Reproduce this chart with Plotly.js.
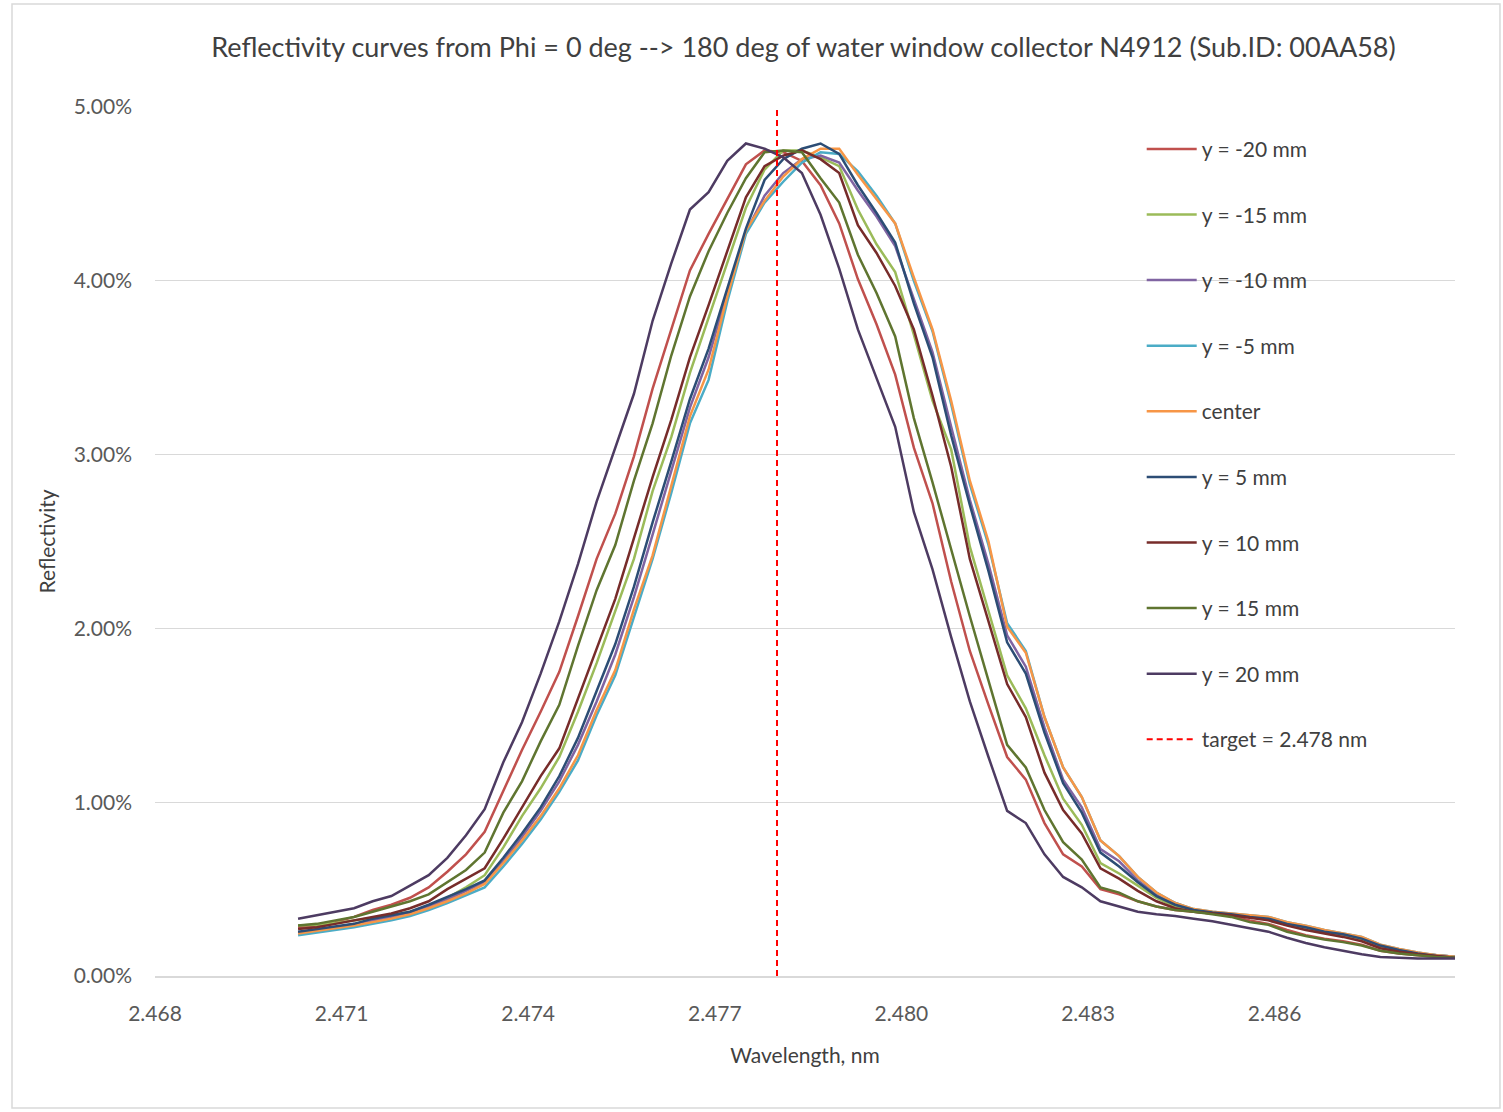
<!DOCTYPE html>
<html>
<head>
<meta charset="utf-8">
<script src="https://cdn.plot.ly/plotly-3.0.1.min.js"></script>
<style>html,body{margin:0;padding:0;background:#fff;}#chart{width:1503px;height:1112px;}</style>
</head>
<body>
<div id="chart"></div>
<script>
// Wavelength, nm
const wavelength = [2.4703,2.4706,2.4709,2.4712,2.4715,2.4718,2.4721,2.4724,2.4727,2.4730,2.4733,2.4736,2.4739,2.4742,2.4745,2.4748,2.4751,2.4754,2.4757,2.4760,2.4763,2.4766,2.4769,2.4772,2.4775,2.4778,2.4781,2.4784,2.4787,2.4790,2.4793,2.4796,2.4799,2.4802,2.4805,2.4808,2.4811,2.4814,2.4817,2.4820,2.4823,2.4826,2.4829,2.4832,2.4835,2.4838,2.4841,2.4844,2.4847,2.4850,2.4853,2.4856,2.4859,2.4862,2.4865,2.4868,2.4871,2.4874,2.4877,2.4880,2.4883,2.4886,2.4889];

// Reflectivity in percent
const yMinus20 = [0.28,0.29,0.31,0.34,0.38,0.41,0.45,0.51,0.60,0.70,0.83,1.07,1.30,1.52,1.75,2.07,2.40,2.66,2.99,3.38,3.72,4.06,4.27,4.47,4.67,4.75,4.74,4.69,4.55,4.33,4.01,3.75,3.46,3.04,2.72,2.27,1.87,1.56,1.26,1.13,0.88,0.70,0.63,0.50,0.47,0.43,0.40,0.38,0.37,0.36,0.345,0.32,0.30,0.265,0.235,0.215,0.20,0.18,0.145,0.13,0.12,0.11,0.105];
const yMinus15 = [0.29,0.295,0.305,0.32,0.335,0.35,0.37,0.40,0.45,0.51,0.58,0.74,0.92,1.08,1.26,1.52,1.80,2.10,2.40,2.79,3.10,3.47,3.79,4.10,4.42,4.64,4.75,4.75,4.71,4.66,4.41,4.21,4.05,3.69,3.31,3.03,2.47,2.10,1.73,1.54,1.27,1.02,0.87,0.65,0.59,0.52,0.45,0.40,0.375,0.36,0.35,0.34,0.325,0.30,0.275,0.255,0.235,0.21,0.17,0.145,0.13,0.12,0.11];
const yMinus10 = [0.25,0.265,0.28,0.30,0.32,0.34,0.365,0.40,0.44,0.49,0.54,0.66,0.80,0.95,1.12,1.33,1.58,1.85,2.18,2.54,2.90,3.27,3.56,3.93,4.28,4.49,4.62,4.70,4.72,4.68,4.52,4.37,4.20,3.89,3.59,3.16,2.74,2.37,1.96,1.78,1.43,1.13,0.97,0.73,0.66,0.55,0.47,0.42,0.38,0.365,0.355,0.345,0.335,0.305,0.28,0.26,0.24,0.22,0.175,0.15,0.13,0.12,0.11];
const yMinus5 = [0.235,0.25,0.265,0.28,0.30,0.32,0.345,0.38,0.42,0.465,0.51,0.63,0.76,0.90,1.06,1.24,1.50,1.73,2.07,2.40,2.78,3.18,3.43,3.88,4.27,4.45,4.57,4.68,4.74,4.73,4.63,4.49,4.33,4.00,3.71,3.29,2.83,2.48,2.03,1.87,1.49,1.20,1.03,0.78,0.69,0.57,0.48,0.42,0.385,0.37,0.36,0.35,0.34,0.31,0.29,0.265,0.245,0.225,0.18,0.155,0.135,0.12,0.11];
const yCenter = [0.245,0.26,0.275,0.29,0.31,0.33,0.355,0.39,0.43,0.475,0.53,0.65,0.78,0.92,1.08,1.27,1.53,1.76,2.11,2.42,2.82,3.22,3.49,3.91,4.29,4.46,4.60,4.70,4.76,4.76,4.61,4.47,4.33,4.02,3.72,3.31,2.85,2.50,2.01,1.86,1.49,1.20,1.03,0.78,0.69,0.57,0.48,0.42,0.385,0.37,0.36,0.35,0.34,0.31,0.29,0.265,0.245,0.225,0.18,0.155,0.135,0.12,0.11];
const yPlus5 = [0.255,0.27,0.285,0.30,0.33,0.35,0.37,0.41,0.455,0.50,0.55,0.68,0.82,0.97,1.15,1.37,1.64,1.91,2.24,2.61,2.96,3.32,3.61,3.96,4.30,4.58,4.70,4.76,4.79,4.73,4.55,4.39,4.22,3.87,3.56,3.11,2.71,2.33,1.92,1.74,1.40,1.11,0.94,0.71,0.63,0.54,0.46,0.41,0.38,0.365,0.355,0.34,0.33,0.30,0.28,0.255,0.24,0.215,0.175,0.15,0.13,0.115,0.105];
const yPlus10 = [0.27,0.28,0.30,0.32,0.34,0.36,0.39,0.43,0.50,0.56,0.62,0.79,0.97,1.15,1.31,1.60,1.88,2.17,2.52,2.87,3.20,3.56,3.86,4.17,4.48,4.66,4.72,4.75,4.70,4.62,4.32,4.16,3.97,3.72,3.34,2.93,2.40,2.04,1.68,1.49,1.17,0.955,0.82,0.62,0.56,0.49,0.43,0.39,0.37,0.36,0.35,0.335,0.32,0.29,0.265,0.245,0.225,0.20,0.16,0.14,0.125,0.115,0.105];
const yPlus15 = [0.29,0.30,0.32,0.34,0.37,0.40,0.43,0.47,0.54,0.61,0.71,0.94,1.12,1.35,1.56,1.90,2.22,2.48,2.85,3.18,3.57,3.91,4.17,4.39,4.59,4.74,4.75,4.74,4.59,4.45,4.15,3.93,3.68,3.21,2.84,2.45,2.07,1.70,1.33,1.20,0.955,0.77,0.67,0.51,0.48,0.43,0.40,0.38,0.37,0.355,0.34,0.31,0.295,0.255,0.23,0.21,0.195,0.175,0.145,0.13,0.12,0.11,0.105];
const yPlus20 = [0.33,0.35,0.37,0.39,0.43,0.46,0.52,0.58,0.68,0.81,0.96,1.23,1.46,1.74,2.04,2.37,2.73,3.04,3.35,3.77,4.10,4.41,4.51,4.69,4.79,4.76,4.71,4.62,4.38,4.07,3.72,3.44,3.16,2.67,2.34,1.95,1.58,1.26,0.95,0.88,0.70,0.57,0.51,0.43,0.40,0.37,0.355,0.345,0.33,0.315,0.295,0.275,0.255,0.22,0.19,0.165,0.145,0.125,0.11,0.105,0.10,0.10,0.10];

const seriesNames = ['y = -20 mm','y = -15 mm','y = -10 mm','y = -5 mm','center','y = 5 mm','y = 10 mm','y = 15 mm','y = 20 mm'];
const seriesValues = [yMinus20,yMinus15,yMinus10,yMinus5,yCenter,yPlus5,yPlus10,yPlus15,yPlus20];
const seriesColors = ['#C0504D','#9BBB59','#8064A2','#4BACC6','#F79646','#2C4D75','#772C2A','#5F7530','#4D3B62'];

const targetName = 'target = 2.478 nm';
const targetX = [2.478, 2.478];
const targetY = [0, 5];

const xTickVals = [2.468,2.471,2.474,2.477,2.480,2.483,2.486];
const xTickText = ['2.468','2.471','2.474','2.477','2.480','2.483','2.486'];
const yTickVals = [0,1,2,3,4,5];
const yTickText = ['0.00%','1.00%','2.00%','3.00%','4.00%','5.00%'];

const FONT = 'Lato, "Open Sans", sans-serif';

const traces = seriesNames.map((n,i)=>({
  type:'scatter', mode:'lines', name:n, x:wavelength, y:seriesValues[i],
  line:{color:seriesColors[i], width:2.5}, legendgroup:'g'+i
}));
traces.push({type:'scatter', mode:'lines', name:targetName, x:targetX, y:targetY,
  line:{color:'#FF0000', width:2, dash:'6px,4px'}, legendgroup:'gt'});

const layout = {
  width:1503, height:1112,
  paper_bgcolor:'#fff', plot_bgcolor:'#fff',
  margin:{l:155, r:48, t:107, b:136},
  font:{family:FONT, color:'#595959', size:20},
  title:{text:'Reflectivity curves from Phi = 0 deg --> 180 deg of water window collector N4912 (Sub.ID: 00AA58)',
    font:{family:FONT, size:27, color:'#404040'}, xref:'container', x:0.5346, xanchor:'center', yref:'container', y:0.957, yanchor:'middle'},
  xaxis:{range:[2.468,2.4889], tickmode:'array', tickvals:xTickVals, ticktext:xTickText, showgrid:false, zeroline:false,
    showline:true, linecolor:'#D9D9D9', linewidth:1.5, ticks:'', ticklabelstandoff:18,
    tickfont:{size:21, color:'#595959'},
    title:{text:'Wavelength, nm', font:{size:21, color:'#404040'}, standoff:24}},
  yaxis:{range:[0,5], tickmode:'array', tickvals:yTickVals, ticktext:yTickText, showgrid:true, gridcolor:'#D9D9D9', gridwidth:1.2,
    zeroline:false, showline:false, ticks:'', ticklabelstandoff:22,
    tickfont:{size:21, color:'#595959'},
    title:{text:'Reflectivity', font:{size:21, color:'#404040'}, standoff:12}},
  legend:{x:0.759, xanchor:'left', y:0.975, yanchor:'top', traceorder:'grouped', tracegroupgap:35.3,
    font:{size:21, color:'#404040'}, bgcolor:'rgba(0,0,0,0)', itemwidth:50},
  shapes:[{type:'rect', xref:'paper', yref:'paper', x0:-0.11, x1:1.0346, y0:-0.152, y1:1.1185,
    line:{color:'#D9D9D9', width:1.5}, fillcolor:'rgba(0,0,0,0)', layer:'below'}],
  showlegend:true
};

Plotly.newPlot('chart', traces, layout, {displayModeBar:false, staticPlot:true});
</script>
</body>
</html>
